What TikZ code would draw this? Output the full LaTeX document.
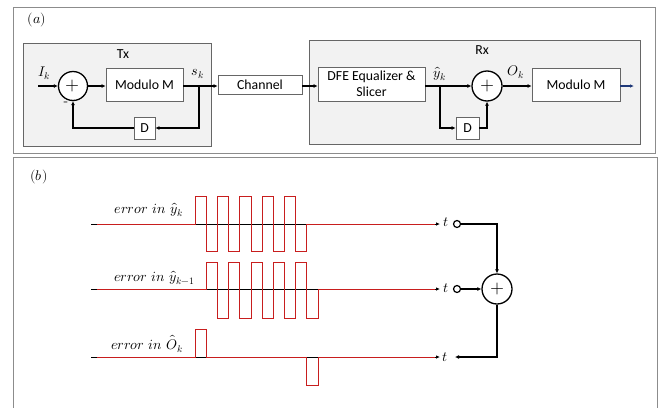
\documentclass[tikz,border=0pt]{standalone}
\usepackage{fontspec}
\usepackage{unicode-math}
\setmathfont{Latin Modern Math}
\newfontfamily\blockfont{Carlito}
\usetikzlibrary{arrows.meta}
\definecolor{sigred}{RGB}{200,30,30}
\definecolor{navyarrow}{RGB}{31,56,120}
\definecolor{grpfill}{RGB}{242,242,242}
\begin{document}
\begin{tikzpicture}[x=1pt,y=-1pt,
  font=\blockfont\fontsize{13.8}{15}\selectfont,
  frame/.style={draw=black!45, line width=1pt},
  grp/.style={draw=black!60, fill=grpfill, line width=0.8pt, inner sep=0pt},
  blk/.style={draw=black!60, fill=white, line width=0.8pt, inner sep=0pt, align=center},
  sumc/.style={circle, draw, line width=1.3pt, inner sep=0pt, fill=white, font=\fontsize{18}{18}\selectfont},
  smallc/.style={circle, draw, line width=1.2pt, inner sep=0pt, minimum size=7pt},
  conn/.style={line width=1.4pt, -{Latex[length=4pt,width=4pt]}},
  ax/.style={line width=1pt, -{Latex[length=4pt,width=3.5pt]}},
  sig/.style={draw=sigred, line width=1pt},
  mlab/.style={font=\fontsize{14}{14}\selectfont, inner sep=0pt},
  elab/.style={font=\fontsize{14}{14}\selectfont, inner sep=0pt, anchor=east},
  plab/.style={font=\fontsize{14}{14}\selectfont, inner sep=0pt},
]
\useasboundingbox (0,0) rectangle (663,407);
\fill[white] (0,0) rectangle (663,407);
% panel frames
\draw[frame] (13,7) rectangle (655,153);
\draw[frame] (13,410) -- (13,157) -- (657,157) -- (657,410);
\node[plab] (pa) at (37,20) {$(a)$};
\node[plab] (pb) at (39,177) {$(b)$};

% ---------- panel (a) ----------
\node[grp, minimum width=188pt, minimum height=103pt] (tx) at (117,94.5) {};
\node[grp, minimum width=331pt, minimum height=104pt] (rx) at (474.5,92) {};
\node[inner sep=0pt] (txl) at (123,54) {Tx};
\node[inner sep=0pt] (rxl) at (482,50) {Rx};

\node[sumc, minimum size=29pt] (s1) at (73,86) {$+$};
\node[blk, minimum width=77pt, minimum height=33pt] (m1) at (144.5,85) {Modulo M};
\node[blk, minimum width=21pt, minimum height=22pt] (d1) at (144.5,128) {D};
\node[blk, minimum width=84pt, minimum height=19pt] (ch) at (260,85) {Channel};
\node[blk, minimum width=107pt, minimum height=34pt, font=\blockfont\fontsize{13.8}{15.5}\selectfont] (dfe) at (371.5,84) {DFE Equalizer \&\\Slicer};
\node[sumc, minimum size=30pt] (s2) at (487,86) {$+$};
\node[blk, minimum width=23pt, minimum height=22pt] (d2) at (467.5,128) {D};
\node[blk, minimum width=88pt, minimum height=33pt] (m2) at (576,84.5) {Modulo M};

\coordinate (ik) at (38,86);
\coordinate (b1) at (199,86);
\coordinate (b2) at (440,86);
\coordinate (outa) at (634,86);

\draw[conn] (ik) -- (s1.west);
\draw[conn] (s1.east) -- (s1.east -| m1.west);
\draw[line width=1.4pt] (m1.east |- b1) -- (b1);
\draw[conn] (b1) -- (b1 -| ch.west);
\draw[conn] (b1) |- (d1.east);
\draw[conn] (d1.west) -| (s1.south);
\draw[conn] (ch.east |- b1) -- (b1 -| dfe.west);
\draw[line width=1.4pt] (dfe.east |- b2) -- (b2);
\draw[conn] (b2) -- (s2.west);
\draw[conn] (b2) |- (d2.west);
\draw[conn] (d2.east) -| (s2.south);
\draw[conn] (s2.east) -- (s2.east -| m2.west);
\draw[line width=1.2pt, navyarrow, -{Latex[length=4pt,width=3.5pt]}] (m2.east |- outa) -- (outa);

\node[mlab] (lik) at (44,73) {$I_k$};
\node[mlab] (lsk) at (198,74) {$s_k$};
\node[mlab] (lmin) at (66,104) {-};
\node[mlab] (lyk) at (440,74) {$\hat{y}_k$};
\node[mlab] (lok) at (516,72) {$O_k$};

% ---------- panel (b) ----------
\coordinate (a1s) at (91,224);
\coordinate (a1e) at (440,224);
\coordinate (a2s) at (91,289);
\coordinate (a2e) at (440,289);
\coordinate (a3s) at (91,357);
\coordinate (a3e) at (440,357);
\draw[ax] (a1s) -- (a1e);
\draw[ax] (a2s) -- (a2e);
\draw[ax] (a3s) -- (a3e);

% signal 1
\draw[sig] (97,224) -- (195.3,224)
  \foreach \i in {1,...,5} { -- ++(0,-28) -- ++(11.15,0) -- ++(0,55) -- ++(11.15,0) -- ++(0,-27) }
  -- (435,224);
% signal 2
\draw[sig] (97,289) -- (206.5,289)
  \foreach \i in {1,...,5} { -- ++(0,-27) -- ++(11.15,0) -- ++(0,56) -- ++(11.15,0) -- ++(0,-29) }
  -- (435,289);
% signal 3
\draw[sig] (97,357) -- (195.3,357) -- (195.3,329) -- (206.5,329) -- (206.5,357)
  -- (306.8,357) -- (306.8,385) -- (318,385) -- (318,357) -- (435,357);

\node[elab] (e1) at (183,210) {$error\ in\ \hat{y}_k$};
\node[elab] (e2) at (195,278) {$error\ in\ \hat{y}_{k-1}$};
\node[elab] (e3) at (183,344) {$error\ in\ \hat{O}_k$};

\node[mlab] (t1) at (446,222) {$t$};
\node[mlab] (t2) at (446,288) {$t$};
\node[mlab] (t3) at (445,357) {$t$};

\node[smallc] (o1) at (457,224) {};
\node[smallc] (o2) at (457,289) {};
\node[sumc, minimum size=30pt] (s3) at (497,289) {$+$};
\coordinate (tout) at (455,357);

\draw[conn] (o1.east) -| (s3.north);
\draw[conn] (o2.east) -- (s3.west);
\draw[conn] (s3.south) |- (tout);
\end{tikzpicture}
\end{document}
